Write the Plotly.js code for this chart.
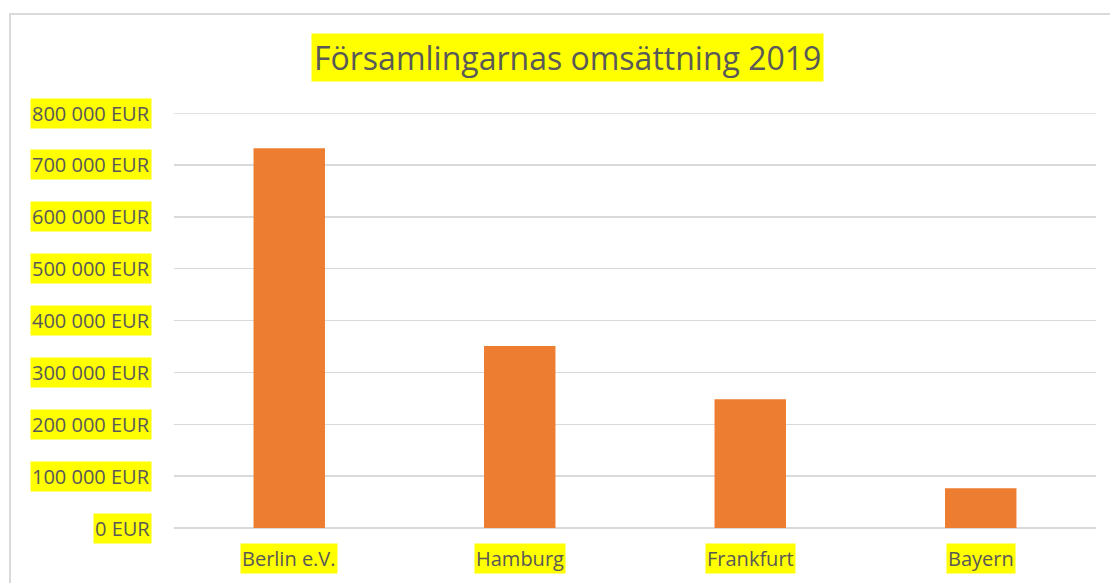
<!DOCTYPE html>
<html>
<head>
<meta charset="utf-8">
<script src="https://cdn.plot.ly/plotly-3.0.1.min.js"></script>
<style>
  html, body { margin: 0; padding: 0; background: #fff; overflow: hidden; }
  #chart { width: 1110px; height: 583px; }
  #frame { position: absolute; left: 9px; top: 13px; width: 1300px; height: 800px;
           border: 2px solid #d9d9d9; pointer-events: none; }
</style>
</head>
<body>
<div id="chart"></div>
<div id="frame"></div>
<script>
const titleText = "Församlingarnas omsättning 2019";
const categories = ["Berlin e.V.", "Hamburg", "Frankfurt", "Bayern"];
const values = [732000, 351000, 248000, 76500];
const tickValues = [0, 100000, 200000, 300000, 400000, 500000, 600000, 700000, 800000];
const tickLabels = ["0 EUR", "100 000 EUR", "200 000 EUR", "300 000 EUR", "400 000 EUR",
                    "500 000 EUR", "600 000 EUR", "700 000 EUR", "800 000 EUR"];

const FONT = "Open Sans, Noto Sans, sans-serif";
const TXT = "#595959";
const YEL = "#ffff00";
const GRID = "#d9d9d9";

const annotations = [];
tickValues.forEach((v, i) => {
  annotations.push({
    xref: "paper", yref: "y", x: 0, y: v, xanchor: "right", yanchor: "middle",
    xshift: -22, text: tickLabels[i], showarrow: false, bgcolor: YEL, borderpad: 1,
    font: { family: FONT, size: 20, color: TXT }
  });
});
categories.forEach(c => {
  annotations.push({
    xref: "x", yref: "paper", x: c, y: 0, xanchor: "center", yanchor: "middle",
    yshift: -30, text: c, showarrow: false, bgcolor: YEL, borderpad: 1,
    font: { family: FONT, size: 20, color: TXT }
  });
});
annotations.push({
  xref: "paper", yref: "paper", x: 0.4273, y: 1, xanchor: "center", yanchor: "middle",
  yshift: 56, text: titleText, showarrow: false, bgcolor: YEL, borderpad: 2,
  font: { family: FONT, size: 32, color: TXT }
});

// top gridline (Plotly omits the gridline lying on the range edge)
const topTick = tickValues[tickValues.length - 1];
const shapes = [{
  type: "line", xref: "paper", yref: "y", x0: 0, x1: 1, y0: topTick, y1: topTick,
  line: { color: GRID, width: 1.5 }, layer: "below"
}];

const trace = {
  type: "bar", x: categories, y: values,
  marker: { color: "#ed7d31" }, hoverinfo: "skip"
};

const layout = {
  width: 1110, height: 583,
  margin: { l: 174, r: 14, t: 113, b: 55 },
  paper_bgcolor: "#ffffff", plot_bgcolor: "#ffffff",
  bargap: 0.69,
  showlegend: false,
  xaxis: { showticklabels: false, showgrid: false, zeroline: false, showline: false, ticks: "" },
  yaxis: { range: [0, 800000], tickvals: tickValues, showticklabels: false,
           showgrid: true, gridcolor: GRID, gridwidth: 1.5,
           zeroline: true, zerolinecolor: GRID, zerolinewidth: 1.5, showline: false, ticks: "" },
  annotations: annotations,
  shapes: shapes,
  font: { family: FONT, color: TXT }
};

Plotly.newPlot("chart", [trace], layout, { displayModeBar: false, staticPlot: true });
</script>
</body>
</html>
